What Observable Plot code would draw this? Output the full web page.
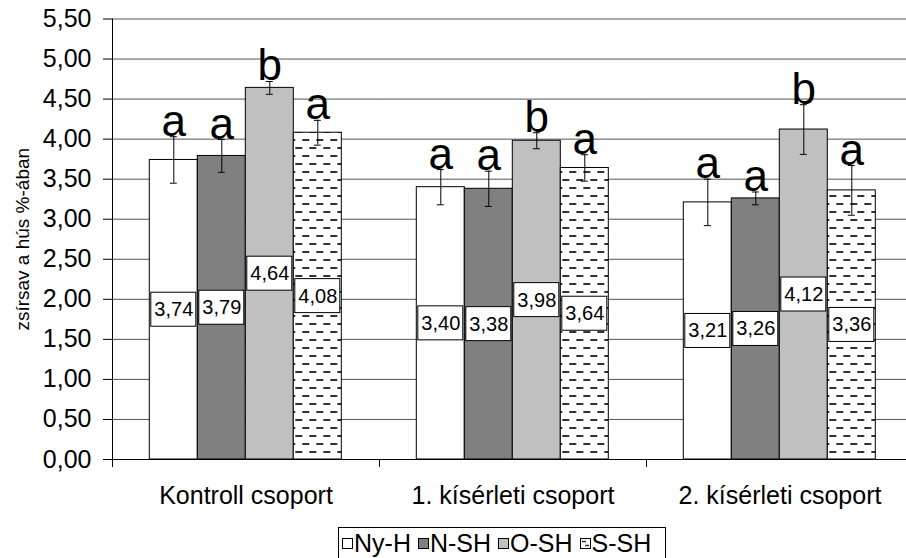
<!DOCTYPE html>
<html>
<head>
<meta charset="utf-8">
<script src="https://cdn.jsdelivr.net/npm/d3@7"></script>
<script src="https://cdn.jsdelivr.net/npm/@observablehq/plot@0.6"></script>
<style>
  html, body { margin: 0; padding: 0; background: #fff; overflow: hidden; }
  #wrap { position: relative; width: 906px; height: 558px; font-family: "Liberation Sans", Arial, sans-serif; }
  #legend {
    position: absolute; left: 338px; top: 527px; height: 32px; box-sizing: border-box;
    border: 1px solid #000; border-bottom: none; background: #fff;
    display: flex; align-items: center; padding: 0 14px 0 3px;
    font-size: 25px; white-space: nowrap; color: #000;
  }
  #legend .item { display: flex; align-items: center; margin-right: 7px; }
  #legend .item:last-child { margin-right: 0; }
  #legend .sw { width: 11px; height: 11px; margin-right: 1px; display: block; }
</style>
</head>
<body>
<svg width="0" height="0" style="position:absolute">
  <defs>
    <pattern id="dashes" patternUnits="userSpaceOnUse" width="14" height="16">
      <rect width="14" height="16" fill="#fff"></rect>
      <path d="M0 4H7M7 12H14" stroke="#333" stroke-width="2"></path>
    </pattern>
  </defs>
</svg>
<div id="wrap">
  <div id="chart"></div>
  <div id="legend"></div>
</div>
<script>
// Groups (x axis), series (legend) and the measured values
const groups = ["Kontroll csoport", "1. kísérleti csoport", "2. kísérleti csoport"];
const series = ["Ny-H", "N-SH", "O-SH", "S-SH"];
const seriesFills = ["#ffffff", "#808080", "#c0c0c0", "url(#dashes)"];

const valuesKontroll = [3.74, 3.79, 4.64, 4.08];
const valuesKiserleti1 = [3.40, 3.38, 3.98, 3.64];
const valuesKiserleti2 = [3.21, 3.26, 4.12, 3.36];

// Standard deviations (error bars)
const errKontroll = [0.29, 0.205, 0.08, 0.155];
const errKiserleti1 = [0.22, 0.22, 0.10, 0.165];
const errKiserleti2 = [0.29, 0.08, 0.31, 0.31];

// Significance letters
const lettersKontroll = ["a", "a", "b", "a"];
const lettersKiserleti1 = ["a", "a", "b", "a"];
const lettersKiserleti2 = ["a", "a", "b", "a"];

const yTicks = [0, 0.5, 1, 1.5, 2, 2.5, 3, 3.5, 4, 4.5, 5, 5.5];
const yLabel = "zsírsav a hús %-ában";

const valueSets = [valuesKontroll, valuesKiserleti1, valuesKiserleti2];
const errSets = [errKontroll, errKiserleti1, errKiserleti2];
const letterSets = [lettersKontroll, lettersKiserleti1, lettersKiserleti2];

const rows = groups.flatMap((g, gi) => series.map((s, si) => ({
  group: g,
  series: s,
  value: valueSets[gi][si],
  err: errSets[gi][si],
  letter: letterSets[gi][si]
})));

const comma = (v) => v.toFixed(2).replace(".", ",");
const font = "Liberation Sans, Arial, sans-serif";

const chart = Plot.plot({
  width: 906,
  height: 526,
  marginLeft: 110.7,
  marginRight: -7.7,
  marginTop: 18.5,
  marginBottom: 67,
  style: { fontFamily: font, color: "#000", background: "#fff", overflow: "hidden" },
  fx: { domain: groups, paddingInner: 0, paddingOuter: 0 },
  x: { domain: series, paddingInner: 0, paddingOuter: 0.737, axis: null },
  y: { domain: [0, 5.5] },
  color: { type: "ordinal", domain: series, range: seriesFills },
  marks: [
    Plot.gridY(yTicks, { stroke: "#555", strokeOpacity: 1 }),
    Plot.barY(rows, { fx: "group", x: "series", y: "value", fill: "series", stroke: "#000", strokeWidth: 1 }),
    // error bars with caps
    Plot.ruleX(rows, { fx: "group", x: "series", y1: (d) => d.value - d.err, y2: (d) => d.value + d.err, stroke: "#000" }),
    Plot.tickY(rows, { fx: "group", x: "series", y: (d) => d.value + d.err, stroke: "#000", insetLeft: 20.5, insetRight: 20.5 }),
    Plot.tickY(rows, { fx: "group", x: "series", y: (d) => d.value - d.err, stroke: "#000", insetLeft: 20.5, insetRight: 20.5 }),
    // boxed value labels at half height
    Plot.barY(rows, { fx: "group", x: "series", y1: (d) => d.value / 2, y2: (d) => d.value / 2,
      insetTop: -17, insetBottom: -17, insetLeft: 1.5, insetRight: 1.5, fill: "#fff", stroke: "#000" }),
    Plot.text(rows, { fx: "group", x: "series", y: (d) => d.value / 2, text: (d) => comma(d.value),
      fontSize: 20, fill: "#000" }),
    // significance letters
    Plot.text(rows, { fx: "group", x: "series", y: (d) => d.value + d.err, text: "letter",
      lineAnchor: "bottom", dy: -1, fontSize: 44, fill: "#000" }),
    // axes
    Plot.ruleY([0], { stroke: "#000" }),
    Plot.frame({ anchor: "left", stroke: "#000", facetAnchor: "left" }),
    Plot.frame({ anchor: "left", stroke: "#000", insetTop: 440.5, insetBottom: -7 }),
    Plot.axisY(yTicks, { tickFormat: comma, tickSize: 9, tickPadding: 12, fontSize: 25, label: null, stroke: "#000" }),
    Plot.axisFx({ anchor: "bottom", tickSize: 0, tickPadding: 27, fontSize: 25, label: null }),
    Plot.text([{ group: groups[0], t: yLabel }], { fx: "group", text: "t", frameAnchor: "left", rotate: -90,
      textAnchor: "middle", dx: -90, fontSize: 19, fill: "#000" })
  ]
});
document.getElementById("chart").appendChild(chart);

// Legend
const legend = document.getElementById("legend");
series.forEach((s, i) => {
  const item = document.createElement("div");
  item.className = "item";
  item.innerHTML =
    `<svg class="sw" width="11" height="11" viewBox="0 0 11 11">` +
    (i === 3
      ? `<rect x="0.5" y="0.5" width="10" height="10" fill="#fff" stroke="#000"/><path d="M2 3.5H6M5 7.5H9" stroke="#333" stroke-width="1.4"/>`
      : `<rect x="0.5" y="0.5" width="10" height="10" fill="${seriesFills[i]}" stroke="#000"/>`) +
    `</svg><span>${s}</span>`;
  legend.appendChild(item);
});
</script>
</body>
</html>
